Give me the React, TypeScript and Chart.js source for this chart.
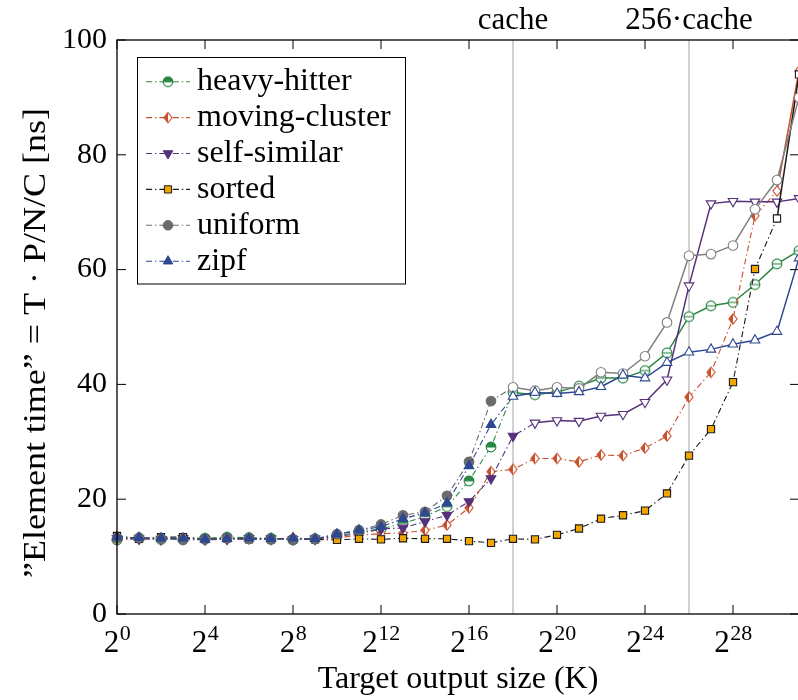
import React, { useEffect, useRef } from 'react';
import { Chart, registerables } from 'chart.js';
import { drawPoint } from 'chart.js/helpers';

Chart.register(...registerables);

// ---------- data ----------
const exponents = [0, 1, 2, 3, 4, 5, 6, 7, 8, 9, 10, 11, 12, 13, 14, 15, 16, 17, 18, 19, 20, 21, 22, 23, 24, 25, 26, 27, 28, 29, 30, 31];
const xTickExponents = [0, 4, 8, 12, 16, 20, 24, 28];
const yTickValues = [0, 20, 40, 60, 80, 100];
const cacheExponents = [18, 26];
const cacheLabels = ['cache', '256·cache'];
const seriesNames = ['heavy-hitter', 'moving-cluster', 'self-similar', 'sorted', 'uniform', 'zipf'];
const yTitle = '\u201DElement time\u201D = T \u00B7 P/N/C [ns]';
const xTitle = 'Target output size (K)';

const heavyHitter = [12.9, 13.2, 13.0, 13.1, 13.2, 13.4, 13.3, 13.2, 12.9, 13.1, 13.6, 14.3, 14.8, 15.8, 17.0, 18.7, 23.2, 29.1, 38.6, 38.2, 38.7, 39.7, 41.1, 41.1, 42.4, 45.5, 51.8, 53.7, 54.3, 57.4, 61.0, 63.3];
const movingCluster = [13.0, 13.1, 13.2, 13.0, 12.9, 13.0, 13.1, 13.0, 13.3, 13.0, 13.3, 13.7, 14.0, 14.1, 14.6, 15.5, 18.5, 24.8, 25.2, 27.1, 27.1, 26.5, 27.7, 27.6, 28.9, 31.0, 37.8, 42.1, 51.4, 69.4, 73.7, 94.6];
const selfSimilar = [13.2, 13.1, 13.0, 13.2, 13.0, 13.1, 13.2, 13.1, 13.0, 13.1, 13.5, 14.0, 14.8, 15.0, 16.1, 17.2, 19.6, 23.6, 31.0, 33.3, 33.7, 33.6, 34.5, 34.8, 36.9, 40.8, 57.2, 71.5, 71.9, 71.8, 71.8, 72.4];
const sortedSeries = [13.6, 13.1, 13.4, 13.4, 13.1, 13.2, 13.0, 13.0, 13.0, 13.0, 12.9, 13.1, 13.0, 13.2, 13.1, 13.1, 12.7, 12.4, 13.1, 13.0, 13.8, 14.9, 16.6, 17.2, 18.0, 21.0, 27.6, 32.2, 40.4, 60.1, 68.9, 94.0];
const uniform = [13.2, 13.3, 13.1, 12.9, 13.0, 13.2, 13.1, 13.0, 13.0, 13.1, 13.9, 14.6, 15.6, 17.2, 17.8, 20.6, 26.5, 37.1, 39.5, 38.9, 39.5, 39.3, 42.1, 41.9, 44.9, 50.8, 62.4, 62.7, 64.2, 70.5, 75.6, 90.0];
const zipf = [13.4, 13.3, 13.2, 13.2, 13.0, 13.1, 13.2, 13.1, 13.2, 13.1, 13.9, 14.6, 15.2, 16.6, 17.6, 19.3, 25.8, 33.0, 37.9, 38.6, 38.4, 38.7, 39.6, 41.6, 41.1, 43.8, 45.6, 46.1, 47.0, 47.7, 49.2, 62.0];

const seriesValues = [heavyHitter, movingCluster, selfSimilar, sortedSeries, uniform, zipf];

// ---------- styles ----------
const FONT = '"Liberation Serif", "Times New Roman", serif';
const DASH = [6, 3, 1.4, 3];
const styles = [
  { color: '#2a8745', hiColor: '#2a8745', marker: 'halfcircle', fill: '#2a8745', hiStart: 18, radius: 5 },
  { color: '#c9502c', hiColor: '#c9502c', marker: 'halfdiamond', fill: '#c9502c', hiStart: 30, radius: 5 },
  { color: '#56307a', hiColor: '#56307a', marker: 'triangle', rotation: 180, fill: '#56307a', hiStart: 19, radius: 5.5 },
  { color: '#1a1a1a', hiColor: '#1a1a1a', marker: 'rect', fill: '#f0a500', hiStart: 30, radius: 5.1 },
  { color: '#6b6b6b', hiColor: '#808080', marker: 'circle', fill: '#6b6b6b', hiStart: 18, radius: 4.8 },
  { color: '#2d4791', hiColor: '#2d4791', marker: 'triangle', rotation: 0, fill: '#2d4791', hiStart: 18, radius: 5.5 },
];

function makeCanvas(draw: (g: CanvasRenderingContext2D, c: number) => void) {
  const cv = document.createElement('canvas');
  cv.width = 14;
  cv.height = 14;
  const g = cv.getContext('2d')!;
  draw(g, 7);
  return cv;
}

function halfCircle(color: string, filled: boolean) {
  return makeCanvas((g, c) => {
    const r = 4.9;
    g.lineWidth = 1.1;
    g.beginPath();
    g.arc(c, c, r, 0, Math.PI * 2);
    g.fillStyle = '#fff';
    g.fill();
    if (filled) {
      g.beginPath();
      g.arc(c, c, r, Math.PI, Math.PI * 2);
      g.closePath();
      g.fillStyle = color;
      g.fill();
    }
    g.strokeStyle = color;
    g.beginPath();
    g.arc(c, c, r, 0, Math.PI * 2);
    g.stroke();
    g.beginPath();
    g.moveTo(c - r, c);
    g.lineTo(c + r, c);
    g.stroke();
  });
}

function halfDiamond(color: string, filled: boolean) {
  return makeCanvas((g, c) => {
    const hw = 4.1;
    const hh = 5.2;
    g.lineWidth = 1.1;
    g.beginPath();
    g.moveTo(c, c - hh);
    g.lineTo(c + hw, c);
    g.lineTo(c, c + hh);
    g.lineTo(c - hw, c);
    g.closePath();
    g.fillStyle = '#fff';
    g.fill();
    if (filled) {
      g.beginPath();
      g.moveTo(c, c - hh);
      g.lineTo(c, c + hh);
      g.lineTo(c - hw, c);
      g.closePath();
      g.fillStyle = color;
      g.fill();
    }
    g.strokeStyle = color;
    g.beginPath();
    g.moveTo(c, c - hh);
    g.lineTo(c + hw, c);
    g.lineTo(c, c + hh);
    g.lineTo(c - hw, c);
    g.closePath();
    g.stroke();
  });
}

function markerFor(i: number, hi: boolean): any {
  const s = styles[i];
  if (s.marker === 'halfcircle') return halfCircle(s.color, !hi);
  if (s.marker === 'halfdiamond') return halfDiamond(s.color, !hi);
  return s.marker;
}

const decor = {
  id: 'decor',
  beforeDatasetsDraw(chart: any) {
    const { ctx, chartArea: a, scales } = chart;
    ctx.save();
    ctx.strokeStyle = '#c2c2c2';
    ctx.lineWidth = 1.5;
    cacheExponents.forEach((e) => {
      const px = scales.x.getPixelForValue(e);
      ctx.beginPath();
      ctx.moveTo(px, a.top);
      ctx.lineTo(px, a.bottom);
      ctx.stroke();
    });
    ctx.restore();
  },
  afterDatasetsDraw(chart: any) {
    const { ctx, chartArea: a, scales } = chart;
    ctx.save();
    ctx.strokeStyle = '#000';
    ctx.lineWidth = 1.3;
    ctx.strokeRect(a.left, a.top, a.right - a.left, a.bottom - a.top);
    ctx.lineWidth = 1;
    const tl = 9;
    scales.x.ticks.forEach((t: any) => {
      const px = scales.x.getPixelForValue(t.value);
      ctx.beginPath();
      ctx.moveTo(px, a.bottom);
      ctx.lineTo(px, a.bottom - tl);
      ctx.moveTo(px, a.top);
      ctx.lineTo(px, a.top + tl);
      ctx.stroke();
    });
    scales.y.ticks.forEach((t: any) => {
      const py = scales.y.getPixelForValue(t.value);
      ctx.beginPath();
      ctx.moveTo(a.left, py);
      ctx.lineTo(a.left + tl, py);
      ctx.moveTo(a.right, py);
      ctx.lineTo(a.right - tl, py);
      ctx.stroke();
    });
    ctx.restore();
  },
  afterDraw(chart: any) {
    const { ctx, scales } = chart;
    ctx.save();
    ctx.fillStyle = '#000';
    // x tick labels with superscript exponents
    scales.x.ticks.forEach((t: any) => {
      const px = scales.x.getPixelForValue(t.value);
      const exp = String(t.value);
      ctx.font = `31px ${FONT}`;
      const wb = ctx.measureText('2').width;
      ctx.font = `22px ${FONT}`;
      const we = ctx.measureText(exp).width;
      const start = px - (wb + we) / 2;
      ctx.textAlign = 'left';
      ctx.textBaseline = 'alphabetic';
      ctx.font = `31px ${FONT}`;
      ctx.fillText('2', start, 652);
      ctx.font = `22px ${FONT}`;
      ctx.fillText(exp, start + wb + 0.5, 640);
    });
    // top labels for cache lines
    ctx.font = `31px ${FONT}`;
    ctx.textAlign = 'center';
    cacheExponents.forEach((e, i) => {
      const px = scales.x.getPixelForValue(e);
      ctx.fillText(cacheLabels[i], px, 29);
    });
    // y title
    ctx.save();
    ctx.font = `32px ${FONT}`;
    const w = ctx.measureText(yTitle).width;
    ctx.translate(45, 343);
    ctx.rotate(-Math.PI / 2);
    ctx.scale(Math.min(1.2, 470 / w), 1);
    ctx.textAlign = 'center';
    ctx.fillText(yTitle, 0, 0);
    ctx.restore();
    // legend
    const bx = 137.5, by = 57.5, bw = 268, bh = 226.5;
    ctx.fillStyle = '#fff';
    ctx.fillRect(bx, by, bw, bh);
    ctx.strokeStyle = '#000';
    ctx.lineWidth = 1;
    ctx.strokeRect(bx, by, bw, bh);
    seriesNames.forEach((name, i) => {
      const s = styles[i];
      const cy = 81.7 + i * 35.9;
      ctx.save();
      ctx.strokeStyle = s.color;
      ctx.lineWidth = 1.1;
      ctx.setLineDash(DASH);
      ctx.beginPath();
      ctx.moveTo(146, cy);
      ctx.lineTo(190, cy);
      ctx.stroke();
      ctx.setLineDash([]);
      ctx.fillStyle = s.fill;
      ctx.strokeStyle = s.color;
      ctx.lineWidth = 1;
      drawPoint(ctx, { pointStyle: markerFor(i, false), rotation: s.rotation || 0, radius: s.radius, borderWidth: 1 } as any, 168, cy);
      ctx.restore();
      ctx.fillStyle = '#000';
      ctx.font = `32px ${FONT}`;
      ctx.textAlign = 'left';
      ctx.textBaseline = 'alphabetic';
      ctx.fillText(name, 197, cy + 8.5);
    });
    ctx.restore();
  },
};

export default function App() {
  const ref = useRef<HTMLCanvasElement>(null);
  useEffect(() => {
    const datasets = seriesValues.map((vals, i) => {
      const s = styles[i];
      return {
        label: seriesNames[i],
        data: vals.map((v, k) => ({ x: exponents[k], y: v })),
        borderColor: s.color,
        borderWidth: 1.1,
        tension: 0,
        fill: false,
        clip: false as any,
        order: -i,
        pointStyle: vals.map((_, k) => markerFor(i, k >= s.hiStart)),
        pointRotation: s.rotation || 0,
        pointRadius: s.radius,
        pointHoverRadius: s.radius,
        pointBorderWidth: 1.1,
        pointBackgroundColor: vals.map((_, k) => (k >= s.hiStart ? '#fff' : s.fill)),
        pointBorderColor: vals.map((_, k) => (k >= s.hiStart ? s.hiColor : s.color)),
        segment: {
          borderDash: (c: any) => (c.p0DataIndex >= s.hiStart ? [] : DASH),
          borderWidth: (c: any) => (c.p0DataIndex >= s.hiStart ? 1.5 : 1.1),
          borderColor: (c: any) => (c.p0DataIndex >= s.hiStart ? s.hiColor : s.color),
        },
      };
    });
    const chart = new Chart(ref.current!, {
      type: 'line',
      data: { datasets },
      options: {
        animation: false,
        responsive: false,
        devicePixelRatio: 1,
        events: [],
        layout: { padding: { left: 0, right: 13, top: 40, bottom: 0 } },
        plugins: { legend: { display: false }, tooltip: { enabled: false } },
        scales: {
          x: {
            type: 'linear',
            min: 0,
            max: 31,
            grid: { display: false, drawTicks: false },
            border: { display: false },
            ticks: { display: false },
            afterBuildTicks: (scale: any) => {
              scale.ticks = xTickExponents.map((v) => ({ value: v }));
            },
            afterFit: (scale: any) => {
              scale.height = 86;
            },
            title: {
              display: true,
              text: xTitle,
              color: '#000',
              font: { family: FONT, size: 32 },
              padding: { top: 0, bottom: 1 },
            },
          },
          y: {
            min: 0,
            max: 100,
            grid: { display: false, drawTicks: false },
            border: { display: false },
            afterBuildTicks: (scale: any) => {
              scale.ticks = yTickValues.map((v) => ({ value: v }));
            },
            afterFit: (scale: any) => {
              scale.width = 117;
            },
            ticks: {
              color: '#000',
              font: { family: FONT, size: 30 },
              padding: 10,
            },
          },
        },
      } as any,
      plugins: [decor],
    });
    return () => chart.destroy();
  }, []);
  return (
    <div style={{ position: 'fixed', left: 0, top: 0, width: 798, height: 700, overflow: 'hidden', background: '#fff' }}>
      <canvas ref={ref} width={812} height={700} style={{ display: 'block', width: 812, height: 700 }} />
    </div>
  );
}
